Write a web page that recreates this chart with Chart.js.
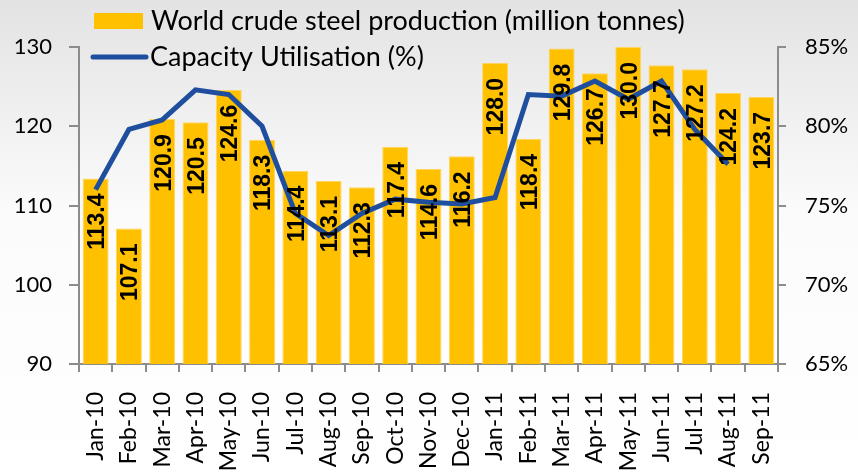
<!DOCTYPE html>
<html>
<head>
<meta charset="utf-8">
<script src="https://cdn.jsdelivr.net/npm/chart.js@4.4.0/dist/chart.umd.min.js"></script>
<style>
  html, body { margin: 0; padding: 0; background: #ffffff; }
  #wrap { position: relative; width: 858px; height: 473px; }
</style>
</head>
<body>
<div id="wrap"><canvas id="c" width="858" height="473"></canvas></div>
<script>
const categories = ['Jan-10','Feb-10','Mar-10','Apr-10','May-10','Jun-10','Jul-10','Aug-10','Sep-10','Oct-10','Nov-10','Dec-10',
                    'Jan-11','Feb-11','Mar-11','Apr-11','May-11','Jun-11','Jul-11','Aug-11','Sep-11'];
const production = [113.4,107.1,120.9,120.5,124.6,118.3,114.4,113.1,112.3,117.4,114.6,116.2,
                    128.0,118.4,129.8,126.7,130.0,127.7,127.2,124.2,123.7];
const utilisation = [76.0,79.8,80.4,82.3,82.0,80.0,74.5,73.1,74.5,75.4,75.2,75.1,
                     75.5,82.0,81.9,82.85,81.7,82.85,79.8,77.6,null];
const seriesNames = ['World crude steel production (million tonnes)', 'Capacity Utilisation (%)'];
const leftRange = [90, 130];
const rightRange = [65, 85];

const BAR_COLOR = '#FFC000';
const LINE_COLOR = '#1F4E9F';
const AXIS_COLOR = '#8c8c8c';
const TICK_FONT = { family: 'Lato', size: 22 };
const XTICK_FONT = { family: 'Lato', size: 23 };

const bgPlugin = {
  id: 'bg',
  beforeDraw(chart) {
    const ctx = chart.ctx;
    const g = ctx.createLinearGradient(0, 0, 0, chart.height);
    g.addColorStop(0, '#e3e3e3');
    g.addColorStop(0.45, '#fbfbfb');
    g.addColorStop(1, '#ffffff');
    ctx.save();
    ctx.fillStyle = g;
    ctx.fillRect(0, 0, chart.width, chart.height);
    ctx.restore();
  }
};

const labelPlugin = {
  id: 'barLabels',
  afterDatasetsDraw(chart) {
    const ctx = chart.ctx;
    const meta = chart.getDatasetMeta(0);
    ctx.save();
    ctx.fillStyle = '#000000';
    ctx.font = 'bold 23px "Liberation Sans", Arial, sans-serif';
    ctx.textAlign = 'right';
    ctx.textBaseline = 'middle';
    meta.data.forEach((bar, i) => {
      ctx.save();
      ctx.translate(bar.x + 2, bar.y + 15);
      ctx.rotate(-Math.PI / 2);
      ctx.fillText(production[i].toFixed(1), 0, 0);
      ctx.restore();
    });
    ctx.restore();
  }
};

const legendPlugin = {
  id: 'customLegend',
  afterDraw(chart) {
    const ctx = chart.ctx;
    ctx.save();
    ctx.fillStyle = BAR_COLOR;
    ctx.fillRect(94, 13, 49, 16);
    ctx.strokeStyle = LINE_COLOR;
    ctx.lineWidth = 5;
    ctx.lineCap = 'round';
    ctx.beginPath();
    ctx.moveTo(93, 57);
    ctx.lineTo(146, 57);
    ctx.stroke();
    ctx.fillStyle = '#000000';
    ctx.font = '27px Lato, sans-serif';
    ctx.textAlign = 'left';
    ctx.textBaseline = 'middle';
    ctx.fillText(seriesNames[0], 151, 21);
    ctx.fillText(seriesNames[1], 150, 57);
    ctx.restore();
  }
};

new Chart(document.getElementById('c'), {
  data: {
    labels: categories,
    datasets: [
      {
        type: 'bar',
        label: seriesNames[0],
        data: production,
        backgroundColor: BAR_COLOR,
        borderColor: '#FFD65C',
        borderWidth: 1,
        categoryPercentage: 1.0,
        barPercentage: 0.78,
        yAxisID: 'y',
        order: 2
      },
      {
        type: 'line',
        label: seriesNames[1],
        data: utilisation,
        borderColor: LINE_COLOR,
        borderWidth: 5,
        pointRadius: 0,
        tension: 0,
        borderJoinStyle: 'miter',
        fill: false,
        yAxisID: 'y1',
        order: 1
      }
    ]
  },
  options: {
    responsive: false,
    animation: false,
    layout: { padding: { top: 47, left: 0, right: 0, bottom: 0 } },
    plugins: {
      legend: { display: false },
      tooltip: { enabled: false }
    },
    scales: {
      x: {
        offset: true,
        grid: { offset: true, drawOnChartArea: false, drawTicks: true, tickLength: 8, color: AXIS_COLOR, lineWidth: 2 },
        border: { display: true, color: AXIS_COLOR, width: 2 },
        ticks: { autoSkip: false, minRotation: 90, maxRotation: 90, padding: 20, color: '#000', font: XTICK_FONT },
        afterFit(s) { s.height = 109; }
      },
      y: {
        position: 'left',
        min: leftRange[0], max: leftRange[1],
        ticks: { stepSize: 10, padding: 17, color: '#000', font: TICK_FONT },
        grid: { drawOnChartArea: false, drawTicks: true, tickLength: 10, color: AXIS_COLOR, lineWidth: 2 },
        border: { display: true, color: AXIS_COLOR, width: 2 },
        afterFit(s) { s.width = 79; }
      },
      y1: {
        position: 'right',
        min: rightRange[0], max: rightRange[1],
        ticks: { stepSize: 5, padding: 19, color: '#000', font: TICK_FONT, callback: v => v + '%' },
        grid: { drawOnChartArea: false, drawTicks: true, tickLength: 8, color: AXIS_COLOR, lineWidth: 2 },
        border: { display: true, color: AXIS_COLOR, width: 2 },
        afterFit(s) { s.width = 80; }
      }
    }
  },
  plugins: [bgPlugin, labelPlugin, legendPlugin]
});
</script>
</body>
</html>
